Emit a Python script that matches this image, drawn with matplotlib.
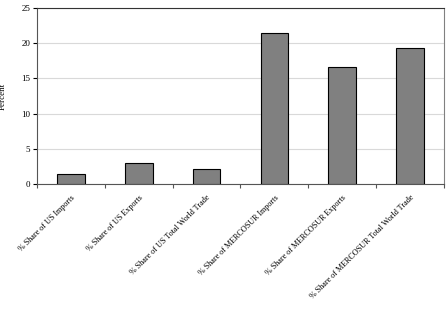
import matplotlib.pyplot as plt
import numpy as np

categories = ['% Share of US Imports', '% Share of US Exports', '% Share of US Total World Trade',
              '% Share of MERCOSUR Imports', '% Share of MERCOSUR Exports',
              '% Share of MERCOSUR Total World Trade']
values = [1.45, 3.0, 2.1, 21.5, 16.6, 19.3]

plt.rcParams['font.family'] = ['Liberation Serif', 'DejaVu Serif']

fig = plt.figure(figsize=(4.47, 3.11), dpi=100)
ax = fig.add_axes([37/447, 1-184/311, (444-37)/447, 176/311])

x = np.arange(len(categories))
ax.bar(x, values, width=0.41, color='#808080', edgecolor='black', linewidth=0.8, zorder=3)

ax.set_xlim(-0.5, len(categories)-0.5)
ax.set_ylim(0, 25)
ax.set_yticks(range(0, 26, 5))
ax.yaxis.grid(True, color='#d9d9d9', linewidth=0.8, zorder=0)

ax.set_xticks(np.arange(-0.5, len(categories), 1))
ax.set_xticklabels([])
ax.set_xticks(x, minor=True)
ax.set_xticklabels(categories, minor=True, rotation=45, ha='right', va='top',
                   rotation_mode='anchor', fontsize=5.9)
ax.tick_params(axis='x', which='minor', length=0, pad=7)
ax.tick_params(axis='x', which='major', length=3, width=0.8, color='#555555')
ax.tick_params(axis='y', length=3, width=0.8, labelsize=6.5, pad=2)

for s in ['top', 'right']:
    ax.spines[s].set_color('#808080')
    ax.spines[s].set_linewidth(0.8)
for s in ['left', 'bottom']:
    ax.spines[s].set_color('#555555')
    ax.spines[s].set_linewidth(0.8)
ax.spines['top'].set_color('#333333')

ax.set_ylabel('Percent', fontsize=6.5)
ax.yaxis.set_label_coords(-30/407, 0.5)

fig.savefig('out.png', dpi=100)
